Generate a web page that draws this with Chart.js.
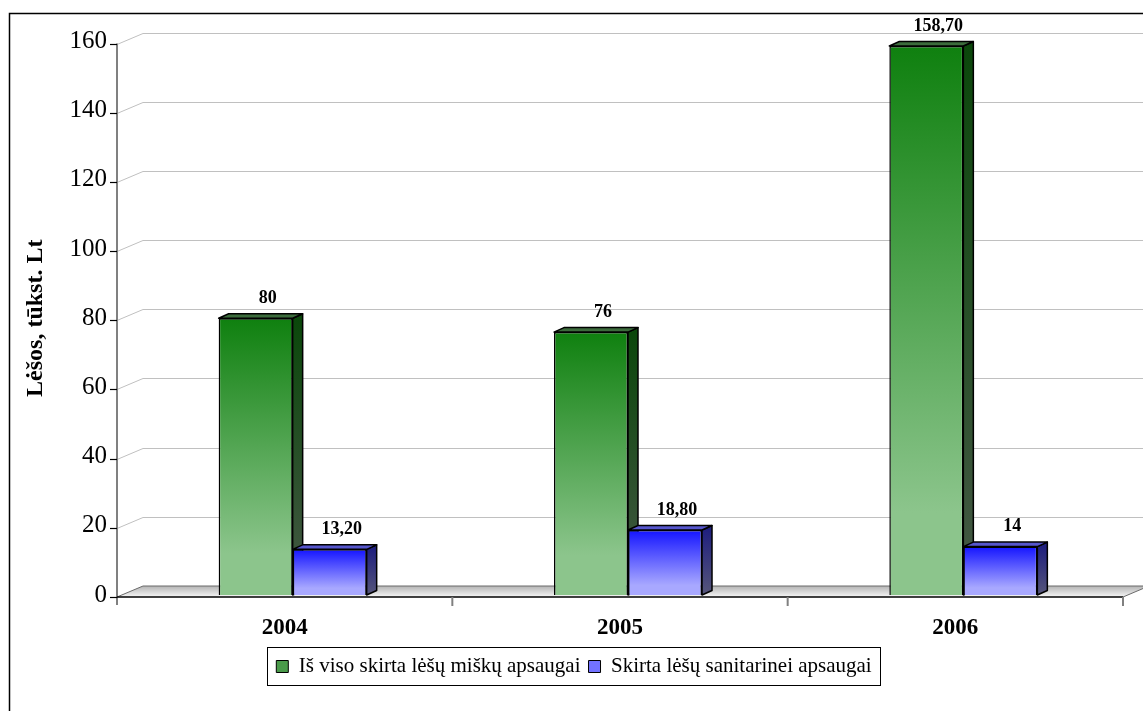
<!DOCTYPE html>
<html>
<head>
<meta charset="utf-8">
<script src="https://cdn.jsdelivr.net/npm/chart.js@4.4.0/dist/chart.umd.min.js"></script>
<style>
  html, body { margin: 0; padding: 0; background: #fff; }
</style>
</head>
<body>
<canvas id="chartLesos" width="1143" height="711"></canvas>
<script>
// ==== Duomenys ====
const metai = ['2004', '2005', '2006'];
const miskuApsaugai = [80, 76, 158.7];
const sanitarineiApsaugai = [13.2, 18.8, 14];
const yTicks = [0, 20, 40, 60, 80, 100, 120, 140, 160];
const serijos = ['Iš viso skirta lėšų miškų apsaugai', 'Skirta lėšų sanitarinei apsaugai'];

// ==== Spalvos ====
const ZALIA = { virsus: '#0f800f', apacia: '#8cc58c', sonasV: '#0b470b', sonasA: '#465846', stogas: '#3c6c3c', legenda: '#4a9a4a' };
const MELYNA = { virsus: '#1414ff', apacia: '#a8a8ff', sonasV: '#20207e', sonasA: '#56567a', stogas: '#5656cc', legenda: '#7272ff' };
const SRIFTAS = "'Liberation Serif', 'Times New Roman', serif";

// 3D poslinkiai (px)
const priekis = { x: -8, y: 2 };      // priekine plokstuma nuo stulpu plokstumos
const gylis = { x: 26, y: -11 };      // visas gylis nuo priekio iki sienos
const stulpoGylis = { x: 10, y: -4.5 };

function stulpoGradientas(ctx, sp) {
  const chart = ctx.chart;
  if (!chart.chartArea || !ctx.parsed) return sp.legenda;
  const y = chart.scales.y;
  const top = y.getPixelForValue(ctx.parsed.y);
  const base = y.getPixelForValue(0);
  const g = chart.ctx.createLinearGradient(0, top, 0, base);
  g.addColorStop(0, sp.virsus);
  g.addColorStop(0.85, sp.apacia);
  g.addColorStop(1, sp.apacia);
  return g;
}

function formatuoti(v) {
  return Number.isInteger(v) ? String(v) : v.toFixed(2).replace('.', ',');
}

// stulpo sonas ir stogas (uz priekines sienos)
function piestiSonus(ctx, bar, sp) {
  const dx = stulpoGylis.x, dy = stulpoGylis.y;
  const l = bar.x - bar.width / 2;
  const r = bar.x + bar.width / 2;
  const t = bar.y, b = bar.base;
  const gs = ctx.createLinearGradient(0, t, 0, b);
  gs.addColorStop(0, sp.sonasV);
  gs.addColorStop(1, sp.sonasA);
  ctx.fillStyle = gs;
  ctx.beginPath();
  ctx.moveTo(r, t);
  ctx.lineTo(r + dx, t + dy);
  ctx.lineTo(r + dx, b + dy);
  ctx.lineTo(r, b);
  ctx.closePath();
  ctx.fill();
  ctx.stroke();
  ctx.fillStyle = sp.stogas;
  ctx.beginPath();
  ctx.moveTo(l, t);
  ctx.lineTo(l + dx, t + dy);
  ctx.lineTo(r + dx, t + dy);
  ctx.lineTo(r, t);
  ctx.closePath();
  ctx.fill();
  ctx.stroke();
}

// ==== Fonas: remelis, tinklelis, grindys, asys ====
const erdvesPlugin = {
  id: 'erdve',
  beforeDatasetsDraw(chart) {
    const { ctx, chartArea } = chart;
    const ys = chart.scales.y;
    const x0 = chartArea.left + priekis.x;
    const x1 = chartArea.right + priekis.x;
    const y0 = ys.getPixelForValue(0) + priekis.y;
    ctx.save();

    // remelis
    ctx.strokeStyle = '#000';
    ctx.lineWidth = 1.5;
    ctx.strokeRect(9.5, 13.5, 1200, 800);

    // tinklelio linijos ant sienos
    ctx.strokeStyle = '#c0c0c0';
    ctx.lineWidth = 1;
    yTicks.forEach(v => {
      if (v === 0) return;
      const yf = Math.round(ys.getPixelForValue(v) + priekis.y) + 0.5;
      ctx.beginPath();
      ctx.moveTo(x0, yf);
      ctx.lineTo(x0 + gylis.x, yf + gylis.y);
      ctx.lineTo(chart.width, yf + gylis.y);
      ctx.stroke();
    });

    // grindys
    const g = ctx.createLinearGradient(0, y0 + gylis.y, 0, y0);
    g.addColorStop(0, '#b4b4b4');
    g.addColorStop(1, '#f6f6f6');
    ctx.beginPath();
    ctx.moveTo(x0, y0);
    ctx.lineTo(x1, y0);
    ctx.lineTo(x1 + gylis.x, y0 + gylis.y);
    ctx.lineTo(x0 + gylis.x, y0 + gylis.y);
    ctx.closePath();
    ctx.fillStyle = g;
    ctx.fill();
    ctx.strokeStyle = '#6a6a6a';
    ctx.beginPath();
    ctx.moveTo(x0, y0);
    ctx.lineTo(x0 + gylis.x, y0 + gylis.y);
    ctx.lineTo(chart.width, y0 + gylis.y);
    ctx.moveTo(x1, y0);
    ctx.lineTo(x1 + gylis.x, y0 + gylis.y);
    ctx.stroke();

    // Y asis
    ctx.strokeStyle = '#808080';
    ctx.lineWidth = 2;
    ctx.beginPath();
    ctx.moveTo(x0, ys.getPixelForValue(160) + priekis.y);
    ctx.lineTo(x0, y0 + 8);
    ctx.stroke();
    ctx.strokeStyle = '#000';
    ctx.lineWidth = 1.2;
    yTicks.forEach(v => {
      const yf = Math.round(ys.getPixelForValue(v) + priekis.y) + 0.5;
      ctx.beginPath();
      ctx.moveTo(x0 - 7, yf);
      ctx.lineTo(x0, yf);
      ctx.stroke();
    });

    // X asis
    ctx.strokeStyle = '#000';
    ctx.lineWidth = 1.5;
    ctx.beginPath();
    ctx.moveTo(x0, y0);
    ctx.lineTo(x1, y0);
    ctx.stroke();
    ctx.strokeStyle = '#808080';
    ctx.lineWidth = 2;
    const zingsnis = (chartArea.right - chartArea.left) / metai.length;
    for (let i = 1; i <= metai.length; i++) {
      const xt = x0 + zingsnis * i;
      ctx.beginPath();
      ctx.moveTo(xt, y0);
      ctx.lineTo(xt, y0 + 9);
      ctx.stroke();
    }

    // stulpu sonai ir stogai: pirmiau zalieji, paskui melynieji
    ctx.strokeStyle = '#000';
    ctx.lineWidth = 1.5;
    ctx.lineJoin = 'round';
    [0, 1].forEach(i => {
      const sp = i === 0 ? ZALIA : MELYNA;
      chart.getDatasetMeta(i).data.forEach(bar => piestiSonus(ctx, bar, sp));
    });
    ctx.restore();
  },

  // reiksmiu uzrasai
  afterDatasetsDraw(chart) {
    const { ctx } = chart;
    ctx.save();
    ctx.fillStyle = '#000';
    ctx.font = 'bold 18px ' + SRIFTAS;
    ctx.textAlign = 'center';
    ctx.textBaseline = 'middle';
    chart.data.datasets.forEach((ds, i) => {
      chart.getDatasetMeta(i).data.forEach((bar, j) => {
        ctx.fillText(formatuoti(ds.data[j]), bar.x + 12, bar.y - 20);
      });
    });
    ctx.restore();
  },

  // legendos remelis
  afterDraw(chart) {
    const hb = chart.legend.legendHitBoxes;
    if (!hb || !hb.length) return;
    const { ctx } = chart;
    const first = hb[0], last = hb[hb.length - 1];
    const left = Math.round(first.left - 9) + 0.5;
    const right = Math.round(last.left + last.width + 8) + 0.5;
    const top = Math.round(first.top - 9) + 0.5;
    const bottom = Math.round(first.top + first.height + 8) + 0.5;
    ctx.save();
    ctx.strokeStyle = '#000';
    ctx.lineWidth = 1;
    ctx.strokeRect(left, top, right - left, bottom - top);
    ctx.restore();
  }
};

// ==== Chart.js ====
const ctxLesos = document.getElementById('chartLesos').getContext('2d');
const chartLesos = new Chart(ctxLesos, {
  type: 'bar',
  data: {
    labels: metai,
    datasets: [{
      label: serijos[0],
      data: miskuApsaugai,
      backgroundColor: ctx => stulpoGradientas(ctx, ZALIA),
      borderColor: '#000',
      borderWidth: 1.5
    }, {
      label: serijos[1],
      data: sanitarineiApsaugai,
      backgroundColor: ctx => stulpoGradientas(ctx, MELYNA),
      borderColor: '#000',
      borderWidth: 1.5
    }]
  },
  options: {
    responsive: false,
    animation: false,
    events: [],
    layout: { padding: { left: 17, top: 41.5, right: 12, bottom: 24 } },
    datasets: {
      bar: { categoryPercentage: 0.4414, barPercentage: 1 }
    },
    scales: {
      x: {
        grid: { display: false, drawTicks: false },
        border: { display: false },
        ticks: {
          color: '#000',
          font: { family: SRIFTAS, size: 23, weight: 'bold' },
          padding: 19,
          labelOffset: -8,
          maxRotation: 0
        },
        afterFit: s => { s.height = 53; }
      },
      y: {
        min: 0,
        max: 160,
        grid: { display: false, drawTicks: false },
        border: { display: false },
        afterBuildTicks: s => { s.ticks = yTicks.map(v => ({ value: v })); },
        ticks: {
          color: '#000',
          font: { family: SRIFTAS, size: 25 },
          padding: 18
        },
        title: {
          display: true,
          text: 'Lėšos, tūkst. Lt',
          color: '#000',
          font: { family: SRIFTAS, size: 24, weight: 'bold' }
        },
        afterFit: s => { s.width = 108; }
      }
    },
    plugins: {
      tooltip: { enabled: false },
      legend: {
        position: 'bottom',
        labels: {
          color: '#000',
          font: { family: SRIFTAS, size: 21 },
          boxWidth: 12,
          boxHeight: 12,
          padding: 8,
          generateLabels: () => serijos.map((t, i) => ({
            text: t,
            fillStyle: i === 0 ? ZALIA.legenda : MELYNA.legenda,
            strokeStyle: '#000',
            lineWidth: 1,
            hidden: false,
            datasetIndex: i
          }))
        }
      }
    }
  },
  plugins: [erdvesPlugin]
});
</script>
</body>
</html>
